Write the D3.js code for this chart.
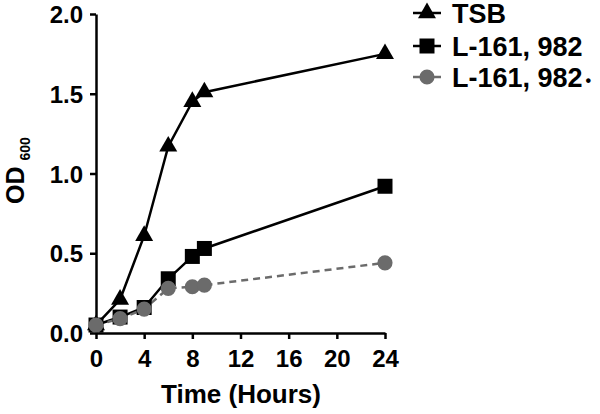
<!DOCTYPE html>
<html>
<head>
<meta charset="utf-8">
<script src="https://cdn.jsdelivr.net/npm/d3@7"></script>
<style>
  body { margin: 0; background: #fff; }
  svg { font-family: "Liberation Sans", Arial, sans-serif; font-weight: bold; }
</style>
</head>
<body>
<svg id="chart" width="600" height="414"></svg>
<script>
// data
var hours = [0, 2, 4, 6, 8, 9, 24];
var tsb = [0.05, 0.21, 0.61, 1.17, 1.45, 1.51, 1.75];
var l161 = [0.05, 0.10, 0.16, 0.34, 0.48, 0.53, 0.92];
var l161dot = [0.05, 0.09, 0.15, 0.28, 0.29, 0.30, 0.44];
var xTicks = [0, 4, 8, 12, 16, 20, 24];
var yTicks = [0, 0.5, 1.0, 1.5, 2.0];
var seriesNames = ["TSB", "L-161, 982", "L-161, 982"];

var svg = d3.select("#chart");
var gray = "#6b6b6b";

var x = d3.scaleLinear().domain([0, 24]).range([96, 385]);
var y = d3.scaleLinear().domain([0, 2]).range([333, 14]);

var series = [
  { name: seriesNames[0], values: tsb, symbol: d3.symbolTriangle, size: 140, color: "#000", dash: null },
  { name: seriesNames[1], values: l161, symbol: d3.symbolSquare, size: 225, color: "#000", dash: null },
  { name: seriesNames[2], values: l161dot, symbol: d3.symbolCircle, size: 180, color: gray, dash: "7,5" }
];

// axes
var xAxis = svg.append("g")
  .attr("transform", "translate(0," + y(0) + ")")
  .call(d3.axisBottom(x).tickValues(xTicks).tickSize(6).tickSizeOuter(0).tickPadding(11));

var yAxis = svg.append("g")
  .attr("transform", "translate(" + x(0) + ",0)")
  .call(d3.axisLeft(y).tickValues(yTicks).tickFormat(d3.format(".1f")).tickSize(6).tickSizeOuter(0).tickPadding(7));

[xAxis, yAxis].forEach(function(a) {
  a.select(".domain").attr("stroke", "#000").attr("stroke-width", 2.5);
  a.selectAll(".tick line").attr("stroke", "#000").attr("stroke-width", 2.5);
  a.selectAll(".tick text")
    .attr("fill", "#000")
    .style("font-size", "24px")
    .style("font-weight", "bold")
    .style("font-family", "Liberation Sans, Arial, sans-serif");
});
yAxis.selectAll(".tick text").attr("dy", "0.36em");

// axis titles
svg.append("text")
  .attr("x", 241)
  .attr("y", 403)
  .attr("text-anchor", "middle")
  .style("font-size", "26px")
  .text("Time (Hours)");

var yl = svg.append("text")
  .attr("transform", "translate(24,204) rotate(-90)")
  .style("font-size", "25px");
yl.append("tspan").text("OD");
yl.append("tspan").attr("dx", 6).attr("dy", 6).style("font-size", "14px").text("600");

// lines
var line = d3.line()
  .x(function(d, i) { return x(hours[i]); })
  .y(function(d) { return y(d); });

series.forEach(function(s) {
  svg.append("path")
    .datum(s.values)
    .attr("fill", "none")
    .attr("stroke", s.color)
    .attr("stroke-width", 2.5)
    .attr("stroke-dasharray", s.dash)
    .attr("d", line);
});

// markers
series.forEach(function(s) {
  svg.append("g").selectAll("path")
    .data(s.values)
    .enter()
    .append("path")
    .attr("transform", function(d, i) {
      return "translate(" + x(hours[i]) + "," + y(d) + ")";
    })
    .attr("d", d3.symbol().type(s.symbol).size(s.size))
    .attr("fill", s.color);
});

// legend
var legendY = [13, 46, 77];
series.forEach(function(s, i) {
  var g = svg.append("g").attr("transform", "translate(427," + legendY[i] + ")");
  g.append("line")
    .attr("x1", -14).attr("x2", 14)
    .attr("stroke", s.color)
    .attr("stroke-width", 2.5);
  g.append("path")
    .attr("d", d3.symbol().type(s.symbol).size(s.size))
    .attr("fill", s.color);
  var t = g.append("text")
    .attr("x", 25)
    .attr("dy", "0.36em")
    .style("font-size", "27px")
    .text(s.name);
  if (i === 2) {
    t.append("tspan").attr("dx", 3).attr("dy", -1).style("font-size", "16px").text("•");
  }
});
</script>
</body>
</html>
